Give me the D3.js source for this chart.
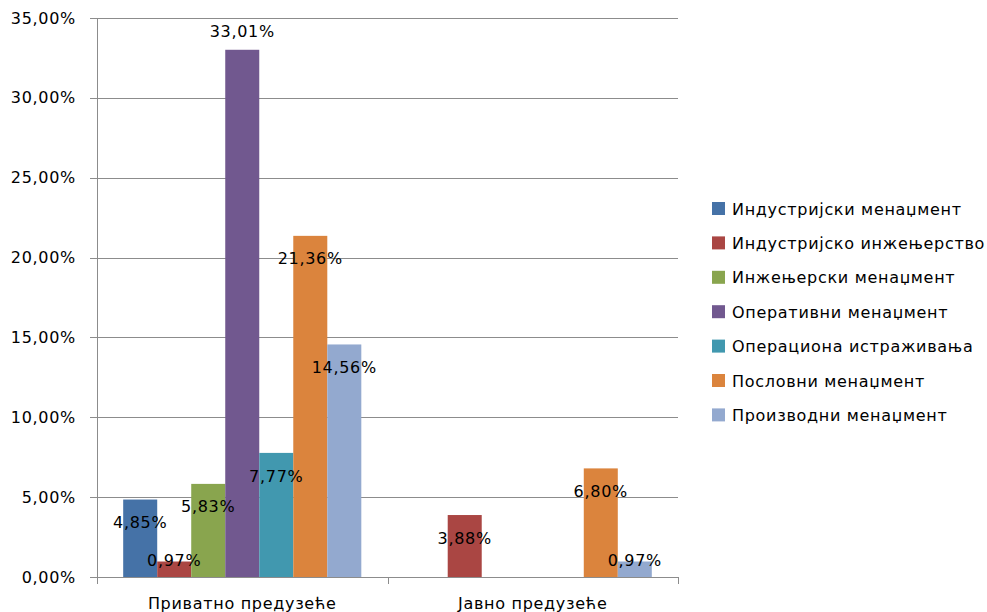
<!DOCTYPE html>
<html>
<head>
<meta charset="utf-8">
<script src="https://cdn.jsdelivr.net/npm/d3@7"></script>
<style>
  body { margin: 0; background: #fff; }
  svg text { font-family: "DejaVu Sans", Verdana, sans-serif; font-size: 16px; letter-spacing: 0.7px; fill: #000; }
</style>
</head>
<body>
<svg id="chart" width="987" height="612"></svg>
<script>
// kategorije (x osa)
const kategorije = ["Приватно предузеће", "Јавно предузеће"];

// serije
const serije = [
  "Индустријски менаџмент",
  "Индустријско инжењерство",
  "Инжењерски менаџмент",
  "Оперативни менаџмент",
  "Операциона истраживања",
  "Пословни менаџмент",
  "Производни менаџмент"
];

// vrednosti po seriji: [privatno, javno]
const privatno = [0.0485, 0.0097, 0.0583, 0.3301, 0.0777, 0.2136, 0.1456];
const javno = [0, 0.0388, 0, 0, 0, 0.068, 0.0097];

const boje = ["#4572A7", "#AA4643", "#89A54E", "#71588F", "#4198AF", "#DB843D", "#93A9CF"];

const yTicks = [0, 0.05, 0.10, 0.15, 0.20, 0.25, 0.30, 0.35];

const sr = d3.formatLocale({ decimal: ",", thousands: ".", grouping: [3], currency: ["", ""] });
const fmt = sr.format(".2%");

const svg = d3.select("#chart");
const pL = 97, pR = 678, pT = 18, pB = 577;

const y = d3.scaleLinear().domain([0, 0.35]).range([pB, pT]);
const x0 = d3.scaleBand().domain(kategorije).range([pL, pR]);
const x1 = d3.scaleBand().domain(serije).range([0, x0.bandwidth()]).paddingOuter(0.77);

const podaci = [];
kategorije.forEach((k, ci) => {
  const vals = ci === 0 ? privatno : javno;
  serije.forEach((s, si) => podaci.push({ kat: k, ser: s, v: vals[si], boja: boje[si] }));
});

// mreža
svg.append("g").selectAll("line").data(yTicks).join("line")
  .attr("x1", pL - 7).attr("x2", pR)
  .attr("y1", d => Math.round(y(d)) + 0.5).attr("y2", d => Math.round(y(d)) + 0.5)
  .attr("stroke", "#8c8c8c").attr("stroke-width", 1);

// y oznake
svg.append("g").selectAll("text").data(yTicks).join("text")
  .attr("x", 76).attr("y", d => y(d)).attr("dy", "0.35em")
  .attr("text-anchor", "end").text(d => fmt(d));

// stubici
const bars = podaci.filter(d => d.v > 0);
svg.append("g").selectAll("rect").data(bars).join("rect")
  .attr("x", d => x0(d.kat) + x1(d.ser))
  .attr("y", d => y(d.v))
  .attr("width", x1.bandwidth())
  .attr("height", d => y(0) - y(d.v))
  .attr("fill", d => d.boja);

// ose
svg.append("line").attr("x1", pL + 0.5).attr("x2", pL + 0.5).attr("y1", pT).attr("y2", pB + 7)
  .attr("stroke", "#8c8c8c");
svg.append("g").selectAll("line").data([pL, x0(kategorije[1]), pR]).join("line")
  .attr("x1", d => Math.round(d) + 0.5).attr("x2", d => Math.round(d) + 0.5)
  .attr("y1", pB).attr("y2", pB + 7).attr("stroke", "#8c8c8c");

// kategorije
svg.append("g").selectAll("text").data(kategorije).join("text")
  .attr("x", d => x0(d) + x0.bandwidth() / 2).attr("y", 603).attr("dy", "0.35em")
  .attr("text-anchor", "middle").text(d => d);

// etikete vrednosti
const maxV = d3.max(bars, d => d.v);
svg.append("g").selectAll("text").data(bars).join("text")
  .attr("x", d => x0(d.kat) + x1(d.ser) + x1.bandwidth() / 2)
  .attr("y", d => d.v === maxV ? y(d.v) - 18 : Math.min(y(d.v) + 23, pB - 17))
  .attr("dy", "0.35em").attr("text-anchor", "middle")
  .text(d => fmt(d.v));

// legenda
const leg = svg.append("g").selectAll("g").data(serije).join("g")
  .attr("transform", (d, i) => `translate(712, ${209 + i * 34.4})`);
leg.append("rect").attr("x", 0).attr("y", -7).attr("width", 13).attr("height", 13)
  .attr("fill", (d, i) => boje[i]);
leg.append("text").attr("x", 20).attr("dy", "0.35em").text(d => d);
</script>
</body>
</html>
